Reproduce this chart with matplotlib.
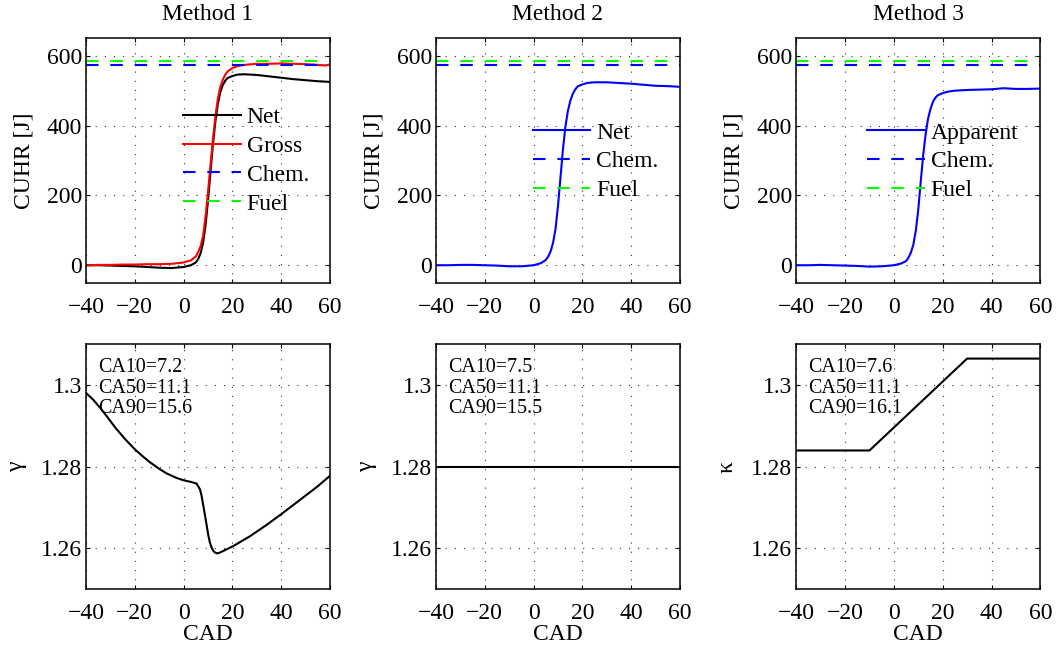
import matplotlib
matplotlib.use("Agg")
import matplotlib.pyplot as plt
from matplotlib.ticker import FuncFormatter

plt.rcParams["font.family"] = ["Liberation Serif", "DejaVu Serif"]
plt.rcParams["lines.scale_dashes"] = False
plt.rcParams["axes.unicode_minus"] = True

# ---------------- data ----------------
titles = ["Method 1", "Method 2", "Method 3"]
x_ticks = [-40, -20, 0, 20, 40, 60]
cuhr_ticks = [0, 200, 400, 600]
gamma_ticks = [1.26, 1.28, 1.3]

chem_energy = 574.0
fuel_energy = 585.0

# Method 1: net and gross cumulative heat release
cad_m1 = [-40, -35, -30, -25, -20, -15, -10, -5, 0, 3, 5, 6, 7, 8, 9, 10, 11, 12,
          13, 14, 15, 16, 17, 18, 20, 22, 25, 30, 35, 40, 45, 50, 55, 58, 60]
net_m1 = [0, 0, -1, -2, -3, -5, -7, -8, -5, 0, 8, 18, 35, 65, 115, 185, 265, 345,
          410, 460, 495, 515, 528, 536, 542, 546, 547, 545, 541, 537, 533, 530, 527, 526, 525]
gross_m1 = [0, 1, 1, 2, 2, 3, 3, 4, 8, 14, 25, 38, 55, 85, 140, 210, 285, 360,
            425, 475, 510, 530, 545, 555, 565, 570, 574, 577, 577, 578, 577, 576, 574, 572, 575]

# Method 2: net cumulative heat release
cad_m2 = [-40, -35, -30, -25, -20, -15, -10, -5, 0, 3, 5, 6, 7, 8, 9, 10, 11, 12,
          13, 14, 15, 16, 17, 18, 20, 22, 25, 30, 35, 40, 45, 50, 55, 60]
net_m2 = [0, 0, 1, 1, 0, -1, -3, -3, 0, 6, 15, 25, 40, 65, 105, 170, 250, 330,
          395, 440, 470, 490, 503, 512, 518, 522, 524, 524, 522, 520, 517, 514, 513, 511]

# Method 3: apparent cumulative heat release
cad_m3 = [-40, -35, -30, -25, -20, -15, -10, -5, 0, 3, 5, 6, 7, 8, 9, 10, 11, 12,
          13, 14, 15, 16, 17, 18, 20, 22, 25, 30, 35, 40, 45, 50, 55, 60]
app_m3 = [0, 0, 1, 0, -1, -2, -4, -3, 0, 5, 12, 22, 37, 60, 100, 160, 240, 315,
          375, 420, 448, 468, 480, 487, 493, 497, 500, 502, 503, 504, 507, 505, 505, 506]

# Ratio of specific heats
cad_g1 = [-40, -37, -34, -31, -28, -24, -20, -17, -14, -10, -7, -3, 0, 3, 5.3,
          6.7, 7.4, 8.1, 8.8, 9.5, 10.1, 10.8, 11.5, 12.2, 12.9, 13.6, 14.5,
          16.3, 20.4, 27.2, 34.1, 40.9, 47.7, 54.5, 60]
gamma_m1 = [1.2981, 1.2964, 1.2943, 1.2920, 1.2896, 1.2868, 1.2843, 1.2827,
            1.2812, 1.2795, 1.2784, 1.2773, 1.2767, 1.2763, 1.2759, 1.2745,
            1.2728, 1.2704, 1.2680, 1.2655, 1.2633, 1.2614, 1.2602, 1.2594,
            1.2590, 1.2588, 1.2589, 1.2594, 1.2606, 1.2630, 1.2658, 1.2688,
            1.2719, 1.2750, 1.2778]
cad_g2 = [-40, 60]
gamma_m2 = [1.28, 1.28]
cad_g3 = [-40, -10, 30, 60]
kappa_m3 = [1.2840, 1.2840, 1.3065, 1.3065]

ca_labels = [["CA10=7.2", "CA50=11.1", "CA90=15.6"],
             ["CA10=7.5", "CA50=11.1", "CA90=15.5"],
             ["CA10=7.6", "CA50=11.1", "CA90=16.1"]]
bottom_ylabels = ["\u03b3", "\u03b3", "\u03ba"]

# ---------------- layout ----------------
W, H = 1057, 651
fig = plt.figure(figsize=(W / 100, H / 100), dpi=100)

col_left = [86, 436, 796.3]
ax_w = 244
top_row = (38.3, 282.7)
bot_row = (344.3, 589.3)

FS = 17
DASH = (0, (9, 8.5))


def make_axes(left, row):
    t, b = row
    return fig.add_axes([left / W, 1 - b / H, ax_w / W, (b - t) / H])


def style(ax):
    ax.set_xlim(-40, 60)
    ax.set_xticks(x_ticks)
    ax.grid(True, linestyle=(0, (0.8, 5.8)), color="0.2", linewidth=0.8)
    ax.tick_params(direction="in", length=3, width=0.8, top=True, right=True,
                   labelsize=FS, colors="black")
    ax.tick_params(axis="x", pad=10)
    ax.tick_params(axis="y", pad=3)
    for s in ax.spines.values():
        s.set_linewidth(1.1)
        s.set_color("black")


top_axes = [make_axes(l, top_row) for l in col_left]
bot_axes = [make_axes(l, bot_row) for l in col_left]

for ax, title in zip(top_axes, titles):
    style(ax)
    ax.set_ylim(-50, 650)
    ax.set_yticks(cuhr_ticks)
    ax.set_title(title, fontsize=FS, pad=13)
    ax.set_ylabel("CUHR [J]", fontsize=FS)
    ax.yaxis.set_label_coords(-0.213, 0.5)

leg_kw = dict(frameon=False, fontsize=FS, handlelength=2.45, handletextpad=0.25,
              labelspacing=0.31, borderpad=0, borderaxespad=0, loc="center left")

# Method 1
ax = top_axes[0]
ax.plot(cad_m1, net_m1, color="black", lw=1.5, label="Net")
ax.plot(cad_m1, gross_m1, color="red", lw=1.5, label="Gross")
ax.axhline(chem_energy, color="blue", lw=1.5, linestyle=DASH, label="Chem.")
ax.axhline(fuel_energy, color="#00ff00", lw=1.5, linestyle=DASH, label="Fuel")
ax.legend(bbox_to_anchor=(0.397, 0.5), **leg_kw)

# Method 2
ax = top_axes[1]
ax.plot(cad_m2, net_m2, color="blue", lw=1.5, label="Net")
ax.axhline(chem_energy, color="blue", lw=1.5, linestyle=DASH, label="Chem.")
ax.axhline(fuel_energy, color="#00ff00", lw=1.5, linestyle=DASH, label="Fuel")
ax.legend(bbox_to_anchor=(0.396, 0.495), **leg_kw)

# Method 3
ax = top_axes[2]
ax.plot(cad_m3, app_m3, color="blue", lw=1.5, label="Apparent")
ax.axhline(chem_energy, color="blue", lw=1.5, linestyle=DASH, label="Chem.")
ax.axhline(fuel_energy, color="#00ff00", lw=1.5, linestyle=DASH, label="Fuel")
ax.legend(bbox_to_anchor=(0.289, 0.495), **leg_kw)

# Bottom row: gamma / kappa
bottom_data = [(cad_g1, gamma_m1), (cad_g2, gamma_m2), (cad_g3, kappa_m3)]
for ax, (xs, ys), lab, cal in zip(bot_axes, bottom_data, bottom_ylabels, ca_labels):
    style(ax)
    ax.set_ylim(1.25, 1.31)
    ax.set_yticks(gamma_ticks)
    ax.yaxis.set_major_formatter(FuncFormatter(lambda v, p: f"{v:g}"))
    ax.plot(xs, ys, color="black", lw=1.5)
    ax.set_xlabel("CAD", fontsize=FS, labelpad=0)
    ax.set_ylabel(lab, fontsize=FS)
    ax.yaxis.set_label_coords(-0.242, 0.5)
    for yy, txt in zip([0.906, 0.820, 0.739], cal):
        ax.text(0.05, yy, txt, transform=ax.transAxes, fontsize=14.4,
                ha="left", va="center")

fig.savefig("out.png", dpi=100)
